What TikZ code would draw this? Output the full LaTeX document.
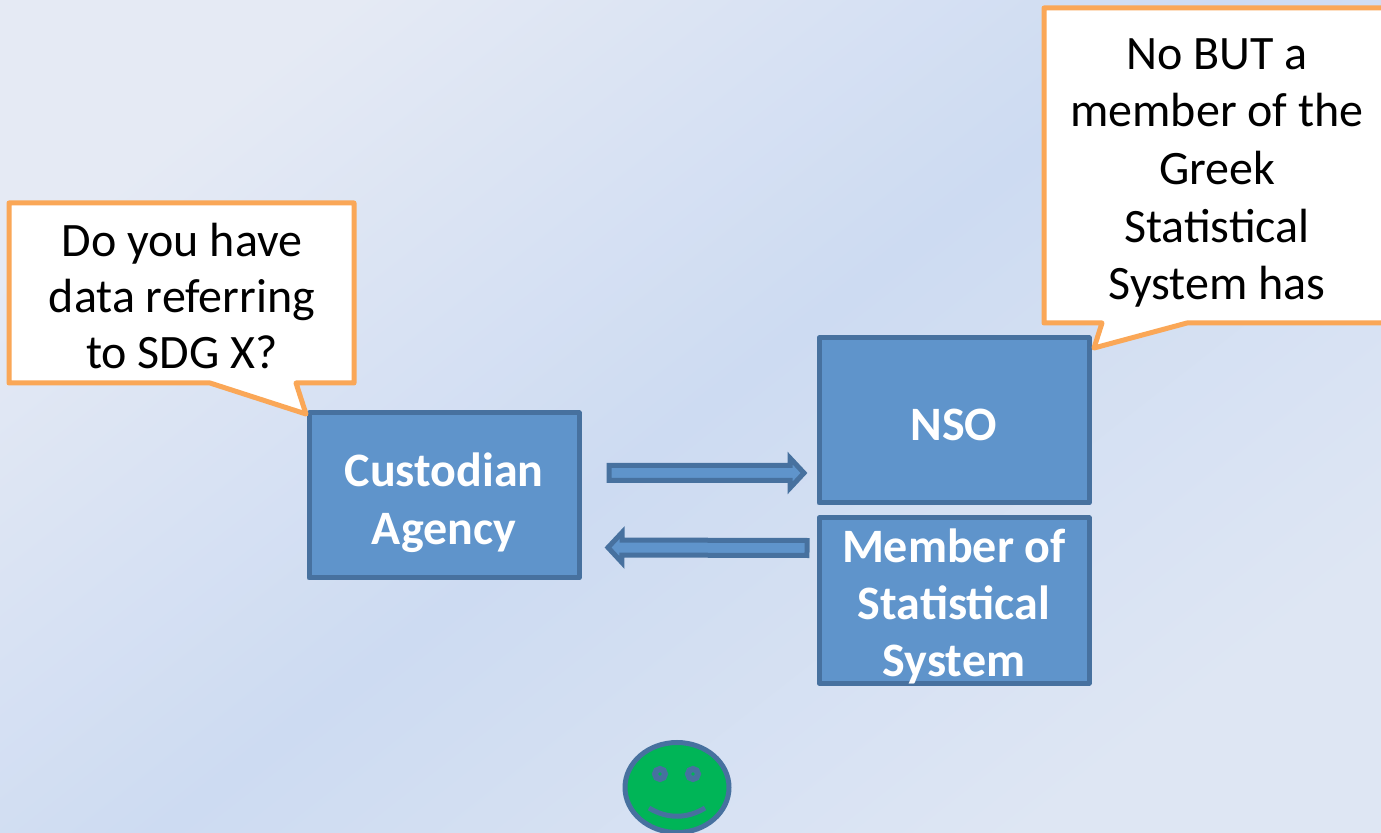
\documentclass[tikz,border=0pt]{standalone}
\usepackage{fontspec}
\setmainfont{Carlito}
\usetikzlibrary{calc,positioning,shapes.geometric}

\definecolor{boxfill}{HTML}{5F94CB}
\definecolor{boxedge}{HTML}{47719F}
\definecolor{calloutedge}{HTML}{FAA757}
\definecolor{smileyfill}{HTML}{00B557}
\definecolor{bgcorner}{HTML}{E5EAF4}
\definecolor{bgmiddle}{HTML}{CDDBF2}
\definecolor{bgfar}{HTML}{DEE6F3}

% taller first line, pushes the text down in its box
\newcommand{\linedrop}[1]{\rule{0pt}{#1}}

\begin{document}
\begin{tikzpicture}[x=0.5pt, y=-0.5pt, node distance=5pt,
    box node/.style={rectangle,draw=boxedge,fill=boxfill,line width=2.5pt,line join=round,
      minimum width=135pt,minimum height=82.5pt,inner sep=0pt,align=center,text=white,
      font=\fontsize{24}{28.6}\selectfont\bfseries},
    callout/.style={draw=calloutedge,fill=white,line width=2.5pt,line join=round},
    callout text/.style={inner sep=0pt,align=center,text=black,font=\fontsize{24}{28.8}\selectfont},
    face/.style={draw=boxedge,line width=2.5pt},
    eye/.style={circle,draw=boxedge,line width=3pt,fill=smileyfill,minimum size=5pt,inner sep=0pt},
    blockarrow/.style={draw=boxedge,fill=boxfill,line width=2.5pt,miter limit=10,
      to path={
        ($(\tikztostart)!3.75pt!90:(\tikztotarget)$)
        -- ($(\tikztotarget)!7pt!(\tikztostart)!3.75pt!90:(\tikztotarget)$)
        -- ($(\tikztotarget)!7pt!(\tikztostart)!7.5pt!90:(\tikztotarget)$)
        -- (\tikztotarget)
        -- ($(\tikztotarget)!7pt!(\tikztostart)!7.5pt!-90:(\tikztotarget)$)
        -- ($(\tikztotarget)!7pt!(\tikztostart)!3.75pt!-90:(\tikztotarget)$)
        -- ($(\tikztostart)!3.75pt!-90:(\tikztotarget)$) -- cycle}}]

  % background
  \useasboundingbox (0,0) rectangle (1381,833);
  \shade[left color=bgcorner,right color=bgfar,middle color=bgmiddle,shading angle=38]
    (0,0) rectangle (1381,833);

  % boxes
  \node[box node] (custodian) at (444,495.5) {\linedrop{24pt}Custodian\\Agency};
  \node[box node] (nso) at (954,420.5) {\linedrop{20.5pt}NSO};
  \node[box node] (member) [below=of nso] {\linedrop{19pt}Member of\\Statistical\\\smash{System}};

  % arrows between the boxes
  \path[blockarrow] ([xshift=13.75pt,yshift=11.25pt]custodian.east) to ([xshift=-6.25pt,yshift=-26.25pt]nso.west);
  \path[blockarrow] ([xshift=-4.75pt,yshift=26.25pt]member.west) to ([xshift=13.25pt,yshift=-26pt]custodian.east);

  % callouts
  \draw[callout] (9,203) -- (354,203) -- (354,383) -- (296,383) -- (306,414) -- (210,383) -- (9,383) -- cycle;
  \node[callout text,font=\fontsize{24}{28}\selectfont] (question) at (182,296) {Do you have\\data referring\\to SDG X?};
  \draw[callout] (1044,8) -- (1395,8) -- (1395,323) -- (1187,323) -- (1094,348) -- (1102,323) -- (1044,323) -- cycle;
  \node[callout text] (answer) at (1217,173) {No BUT a\\member of the\\Greek\\Statistical\\System has};

  % smiley
  \node[ellipse,face,fill=smileyfill,minimum width=52pt,minimum height=45pt,inner sep=0pt] (smiley) at (677,787.5) {};
  \node[eye] (lefteye) at (660,774) {};
  \node[eye] (righteye) at (693,774) {};
  \draw[face] (649,808) .. controls (667,819) and (687,819) .. (705,808);
\end{tikzpicture}
\end{document}
